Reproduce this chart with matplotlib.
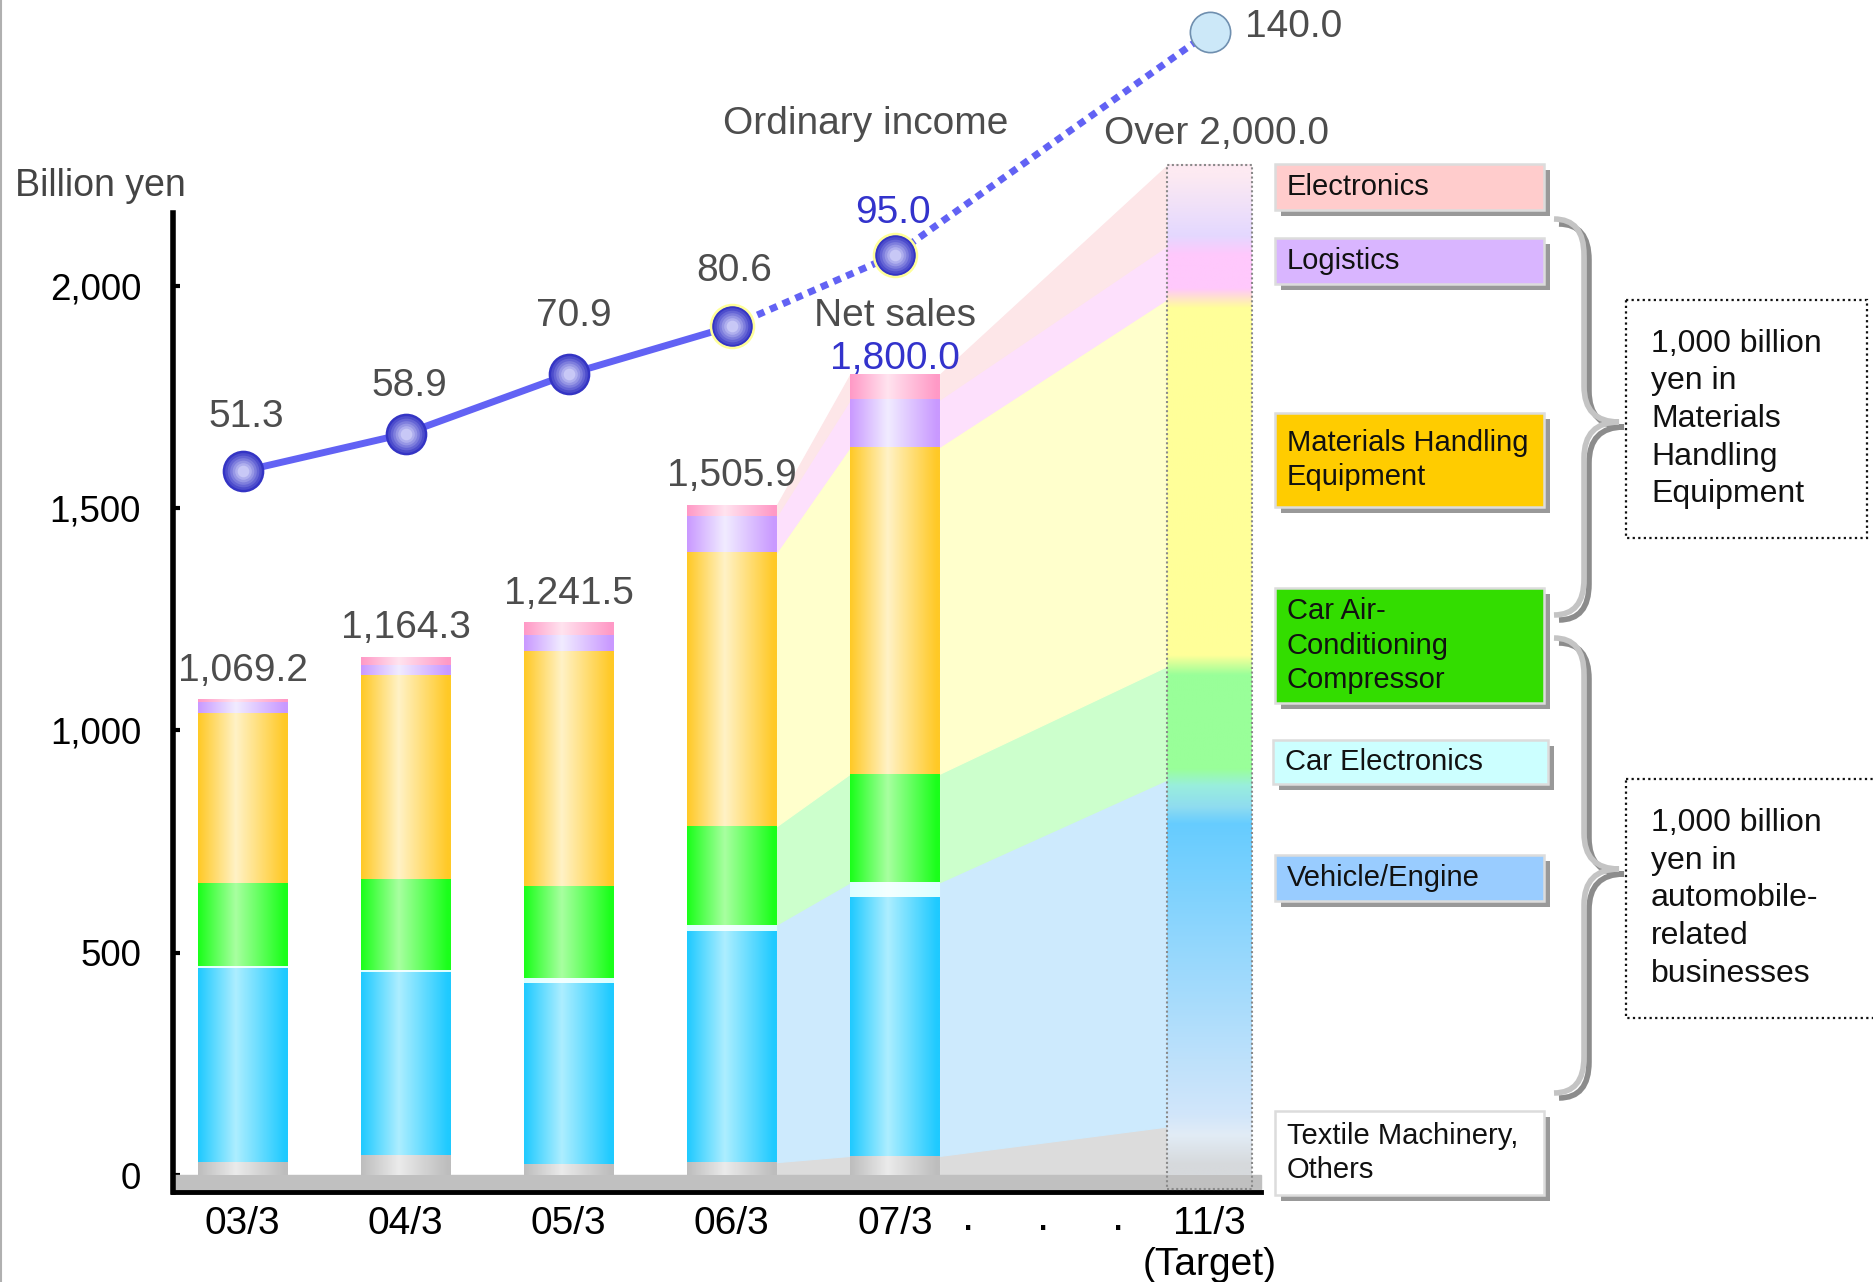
import numpy as np
import matplotlib
matplotlib.use("Agg")
import matplotlib.pyplot as plt
from matplotlib.colors import to_rgb
from matplotlib.patches import Rectangle, PathPatch
from matplotlib.path import Path
from matplotlib.lines import Line2D
from matplotlib.transforms import Affine2D

plt.rcParams['font.family'] = ['Liberation Sans', 'DejaVu Sans']

W, H = 1874, 1282

# fiscal years ending in March, plus the mid-term target
periods = ['03/3', '04/3', '05/3', '06/3', '07/3']
target_tick = '11/3\n(Target)'
xpos = [0, 1, 2, 3, 4]
target_x = 5.93

# net sales by segment, billion yen (bottom to top of each bar)
textile = [31, 45, 25, 30, 44]
vehicle = [436, 412, 408, 520, 582]
car_elec = [4, 5, 11, 14, 33]
compressor = [186, 204, 207, 221, 244]
mhe = [383, 459, 527, 616, 735]
logistics = [23, 23, 36, 81, 106]
electronics = [6.2, 16.3, 27.5, 23.9, 56]
net_sales = [1069.2, 1164.3, 1241.5, 1505.9, 1800.0]

target_segments = [110, 700, 80, 255, 825, 120, 180]

ordinary_income = [51.3, 58.9, 70.9, 80.6, 95.0, 140.0]

legend_labels = ['Electronics', 'Logistics', 'Materials Handling\nEquipment',
                 'Car Air-\nConditioning\nCompressor', 'Car Electronics',
                 'Vehicle/Engine', 'Textile Machinery,\nOthers']

seg_values = [textile, vehicle, car_elec, compressor, mhe, logistics, electronics]

# (edge, centre) colours for the shaded bars
bar_colors = [('#bdbdbd', '#ebebeb'), ('#1fcaff', '#adeeff'), ('#dcffff', '#f4ffff'),
              ('#1aff1a', '#a8ffa0'), ('#ffc926', '#fff2c6'), ('#c999ff', '#f1ecff'),
              ('#ff99c6', '#ffe3ef')]
ribbon_colors = ['#dcdcdc', '#cdeafd', '#cdeafd', '#ccffcc', '#ffffcc', '#fde0fc', '#fde6e8']
# (bottom, top) colours for the target column
target_colors = [('#d6d9dc', '#e2ecf6'), ('#d2e6fa', '#66ccff'), ('#8fdcf0', '#99eedd'),
                 ('#99ff99', '#99ff99'), ('#ffff99', '#ffff99'), ('#ffc8fc', '#ffc8fc'),
                 ('#e4d8ff', '#fdeaf2')]
legend_colors = ['#ffcccc', '#d9b5ff', '#ffcc00', '#33dd00', '#ccffff', '#99ccff', '#ffffff']


def hgradient(edge, center, n=96):
    t = np.linspace(0, 1, n)
    f = np.clip(np.where(t < 0.42, t / 0.42, (0.97 - t) / 0.55), 0, 1)
    e, c = np.array(to_rgb(edge)), np.array(to_rgb(center))
    return (e + (c - e) * f[:, None])[None, :, :]


fig = plt.figure(figsize=(W / 100, H / 100), dpi=100)
pix = Affine2D().scale(1 / W, -1 / H).translate(0, 1) + fig.transFigure

ax = fig.add_axes([173 / W, 90 / H, 1 - 173 / W, 1192 / H])
ax2 = ax.twinx()
ax2.axis('off')

bar_w = 0.549
tgt_w = 0.521
x_start, x_end = -0.4267, 6.244
ymin, ymax = -37.1, 2641.6

stack = np.array(seg_values, dtype=float)
tops = np.cumsum(stack, axis=0)
bots = tops - stack
t_tops = np.cumsum(target_segments)
t_bots = t_tops - np.array(target_segments)
t_total = t_tops[-1]

# pale bands joining 06/3 -> 07/3 -> target
for s in range(len(seg_values)):
    c = ribbon_colors[s]
    ax.fill_between([3 + bar_w / 2, 4 - bar_w / 2], [bots[s, 3], bots[s, 4]],
                    [tops[s, 3], tops[s, 4]], color=c, lw=0.8, zorder=1)
    ax.fill_between([4 + bar_w / 2, target_x - tgt_w / 2], [bots[s, 4], t_bots[s]],
                    [tops[s, 4], t_tops[s]], color=c, lw=0.8, zorder=1)

# grey floor
ax.add_patch(Rectangle((x_start, -30), x_end - x_start, 30, color='#c0c0c0', zorder=2))

# stacked bars
for i, x in enumerate(xpos):
    for s in range(len(seg_values)):
        ax.imshow(hgradient(*bar_colors[s]),
                  extent=(x - bar_w / 2, x + bar_w / 2, bots[s, i], tops[s, i]),
                  aspect='auto', interpolation='bilinear', zorder=3)

# target column with soft vertical blends
stop_v, stop_c = [], []
for s, (lo, hi) in enumerate(zip(t_bots, t_tops)):
    blend = min(22, (hi - lo) * 0.2)
    stop_v += [lo + blend, hi - blend]
    stop_c += [to_rgb(target_colors[s][0]), to_rgb(target_colors[s][1])]
stop_c = np.array(stop_c)
grid = np.linspace(0, t_total, 600)
col = np.stack([np.interp(grid, stop_v, stop_c[:, k]) for k in range(3)], axis=1)
ax.imshow(col[:, None, :], origin='lower',
          extent=(target_x - tgt_w / 2, target_x + tgt_w / 2, 0, t_total),
          aspect='auto', interpolation='bilinear', zorder=3)
ax.add_patch(Rectangle((target_x - tgt_w / 2, -30), tgt_w, t_total + 30, fill=False,
                       ec='#8a8a8a', lw=1.5, ls=(0, (1, 1.2)), zorder=4))

# net sales labels
for i, x in enumerate(xpos):
    v = net_sales[i]
    if i == len(xpos) - 1:
        ax.annotate(f'{v:,.1f}', (x, v), xytext=(0, 6), textcoords='offset pixels',
                    ha='center', va='baseline', fontsize=28, color='#3333cc', zorder=7)
        ax.annotate('Net sales', (x, v), xytext=(0, 49), textcoords='offset pixels',
                    ha='center', va='baseline', fontsize=28, color='#4d4d4d', zorder=7)
    else:
        ax.annotate(f'{v:,.1f}', (x, v), xytext=(0, 19), textcoords='offset pixels',
                    ha='center', va='baseline', fontsize=28, color='#4d4d4d', zorder=7)
ax.annotate('Over 2,000.0', (target_x, t_total), xytext=(7, 21), textcoords='offset pixels',
            ha='center', va='baseline', fontsize=28, color='#4d4d4d')

# ordinary income line
line_c = '#6262f4'
inc_x = xpos + [target_x]
ax2.plot(inc_x[:4], ordinary_income[:4], color=line_c, lw=5, solid_capstyle='round', zorder=2)
ax2.plot(inc_x[3:], ordinary_income[3:], color=line_c, lw=5, ls=(0, (1.1, 0.9)),
         dash_capstyle='butt', zorder=2)
shade = np.linspace(0, 1, 7)
c_out, c_in = np.array(to_rgb('#3434c4')), np.array(to_rgb('#c8c8f6'))
for k, t in enumerate(shade):
    ax2.plot(inc_x[:5], ordinary_income[:5], 'o', ls='none', ms=30 - 3.6 * k,
             mfc=c_out + (c_in - c_out) * t, mec='none', zorder=3)
ax2.plot(inc_x[3:5], ordinary_income[3:5], 'o', ls='none', ms=31, mfc='none',
         mec='#ffff99', mew=1.8, zorder=4)
ax2.plot(inc_x[5], ordinary_income[5], 'o', ms=29, mfc='#cce8f8', mec='#6f8faf', mew=1.2, zorder=3)

label_offsets = [(4, 44), (4, 38), (5, 48), (2, 45), (-2, 32)]
for i in range(5):
    v = ordinary_income[i]
    ax2.annotate(f'{v:.1f}', (inc_x[i], v), xytext=label_offsets[i], textcoords='offset pixels',
                 ha='center', va='baseline', fontsize=28,
                 color='#3333cc' if i == 4 else '#4d4d4d', zorder=5)
ax2.annotate(f'{ordinary_income[5]:.1f}', (inc_x[5], ordinary_income[5]), xytext=(35, -5),
             textcoords='offset pixels', ha='left', va='baseline', fontsize=28, color='#4d4d4d')
fig.text(866, 124, 'Ordinary income', transform=pix, ha='center', va='center',
         fontsize=28, color='#4d4d4d')

# axes styling
ax.set_xlim(x_start, 10.003)
ax.set_ylim(ymin, ymax)
ax2.set_ylim(-94.19, 146.43)
for side in ('top', 'right'):
    ax.spines[side].set_visible(False)
ax.spines['left'].set_linewidth(4)
ax.spines['left'].set_bounds(ymin, 2163.6)
ax.spines['bottom'].set_linewidth(3.5)
ax.spines['bottom'].set_bounds(x_start, x_end)
yt = [0, 500, 1000, 1500, 2000]
ax.set_yticks(yt, [f'{v:,}' for v in yt])
ax.tick_params(axis='y', direction='in', length=5, width=3, pad=23, labelsize=26.5)
ax.set_xticks(xpos + [target_x], periods + [target_tick])
ax.tick_params(axis='x', length=0, pad=10, labelsize=28)
for dx in np.linspace(4.45, 5.37, 3):
    ax.annotate('.', (dx, ymin), xytext=(0, -38), textcoords='offset pixels',
                ha='center', va='baseline', fontsize=32, annotation_clip=False)

fig.text(15, 186, 'Billion yen', transform=pix, ha='left', va='center',
         fontsize=27, color='#444444')

# segment legend boxes on the right
box_rows = [(164, 210), (238, 284), (413, 507), (588, 703), (740, 784), (855, 901), (1111, 1195)]
for label, color, (y0, y1) in zip(legend_labels, legend_colors, box_rows):
    x0, x1 = (1273, 1548) if label == 'Car Electronics' else (1275, 1544)
    fig.add_artist(Rectangle((x0 + 6, y0 + 6), x1 - x0, y1 - y0, transform=pix,
                             fc='#999999', ec='none'))
    fig.add_artist(Rectangle((x0, y0), x1 - x0, y1 - y0, transform=pix,
                             fc=color, ec='#dcdcdc', lw=1.8))
    fig.text(x0 + 12, (y0 + y1) / 2, label, transform=pix, ha='left', va='center',
             fontsize=21, color='#111111', linespacing=1.3)


def brace(top, tip, bottom, left=1554, spine=1584, point=1619, r=36, dx=0, dy=0):
    verts = [(left, top), (spine, top), (spine, top + r),
             (spine, tip - r), (spine, tip), (point, tip),
             (spine, tip), (spine, tip + r),
             (spine, bottom - r), (spine, bottom), (left, bottom)]
    verts = [(a + dx, b + dy) for a, b in verts]
    codes = [Path.MOVETO, Path.CURVE3, Path.CURVE3, Path.LINETO, Path.CURVE3, Path.CURVE3,
             Path.CURVE3, Path.CURVE3, Path.LINETO, Path.CURVE3, Path.CURVE3]
    return Path(verts, codes)


for top, tip, bottom in [(219, 422, 615), (638, 869, 1093)]:
    fig.add_artist(PathPatch(brace(top, tip, bottom, dx=5, dy=5), transform=pix, fc='none',
                             ec='#8c8c8c', lw=4, capstyle='butt'))
    fig.add_artist(PathPatch(brace(top, tip, bottom), transform=pix, fc='none',
                             ec='#c4c4c4', lw=4, capstyle='butt'))

notes = [((1626, 300, 1867, 538), '1,000 billion\nyen in\nMaterials\nHandling\nEquipment'),
         ((1626, 779, 1892, 1018), '1,000 billion\nyen in\nautomobile-\nrelated\nbusinesses')]
for (x0, y0, x1, y1), text in notes:
    fig.add_artist(Rectangle((x0, y0), x1 - x0, y1 - y0, transform=pix, fill=False,
                             ec='#111111', lw=1.6, ls=(0, (1, 1.5))))
    fig.text(x0 + 25, (y0 + y1) / 2, text, transform=pix, ha='left', va='center',
             fontsize=23, color='#111111', linespacing=1.33)

fig.add_artist(Line2D([1, 1], [0, H], transform=pix, color='#b0b0b0', lw=1.5))

fig.savefig('out.png', dpi=100, facecolor='white')
